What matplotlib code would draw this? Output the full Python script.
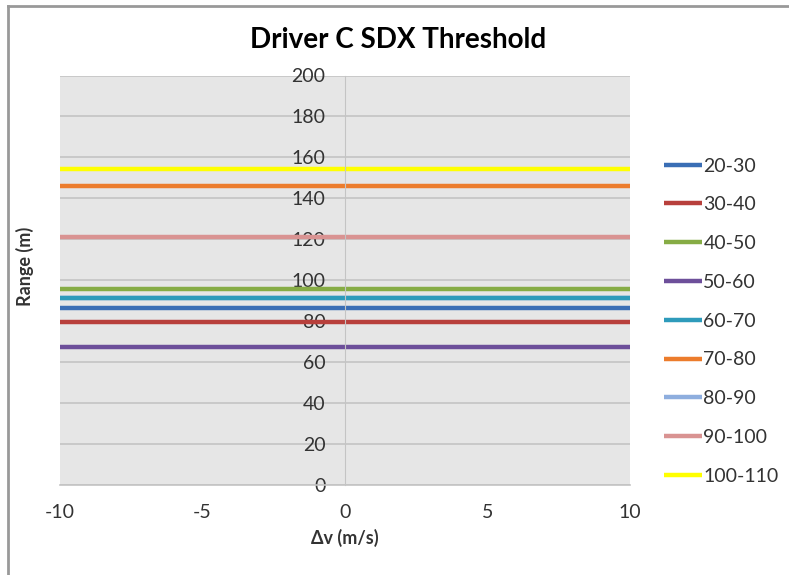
import matplotlib.pyplot as plt
import numpy as np

# speed bins and the SDX threshold range for each (m)
bins = ['20-30', '30-40', '40-50', '50-60', '60-70', '70-80', '80-90', '90-100', '100-110']
ranges = [86.2, 79.6, 95.4, 67.0, 91.0, 146.1, 91.2, 121.2, 154.1]
colors = ['#3a6eb5', '#b8403c', '#86ac45', '#6d4f9a', '#2e9bbb', '#ec7c2c',
          '#8eaede', '#d99392', '#ffff00']
dv = [-10, 10]

plt.rcParams['font.family'] = ['Lato', 'DejaVu Sans']
plt.rcParams['axes.unicode_minus'] = False

fig = plt.figure(figsize=(7.89, 5.75), dpi=100)
ax = fig.add_axes([60/789, 1-484.5/575, 570/789, 409/575])
ax.set_facecolor('#e6e6e6')

for b, r, c in zip(bins, ranges, colors):
    z = 1 if b == '80-90' else 2
    ax.plot(dv, [r, r], color=c, lw=3.2, label=b, solid_capstyle='butt', zorder=z)

ax.set_xlim(-10, 10)
ax.set_ylim(0, 200)
ax.set_xticks([-10, -5, 0, 5, 10])
ax.set_yticks(range(0, 201, 20))
ax.yaxis.grid(True, color='#c4c4c4', lw=1.2)
ax.set_axisbelow(True)

# y axis sits at dv = 0
ax.spines['left'].set_position(('data', 0))
ax.spines['left'].set_color('#c4c4c4')
ax.spines['bottom'].set_color('#c4c4c4')
ax.spines['bottom'].set_linewidth(1.2)
ax.spines['right'].set_visible(False)
ax.spines['top'].set_visible(False)
ax.tick_params(axis='both', length=0, labelsize=14, colors='#333333')
ax.tick_params(axis='x', pad=14)
ax.tick_params(axis='y', pad=14)

fig.text(398/789, 1-40/575, 'Driver C SDX Threshold', fontsize=20, fontweight='bold',
         ha='center', va='center')
ax.set_xlabel('\u0394v (m/s)', fontsize=13, fontweight='bold', labelpad=6, color='#333333')
fig.text(25/789, 1-266/575, 'Range (m)', rotation=90, fontsize=13, fontweight='bold',
         ha='center', va='center', color='#333333')

fig.legend(loc='upper left', bbox_to_anchor=(646/789, 1-140/575), frameon=False,
           fontsize=14, handlelength=2.0, handletextpad=0.05, labelspacing=1.12,
           labelcolor='#333333')

# chart frame
fig.add_artist(plt.Line2D([8/789, 8/789], [0, 1-6/575], color='#999999', lw=2))
fig.add_artist(plt.Line2D([8/789, 1], [1-6/575, 1-6/575], color='#999999', lw=2))

fig.savefig('out.png', dpi=100)
